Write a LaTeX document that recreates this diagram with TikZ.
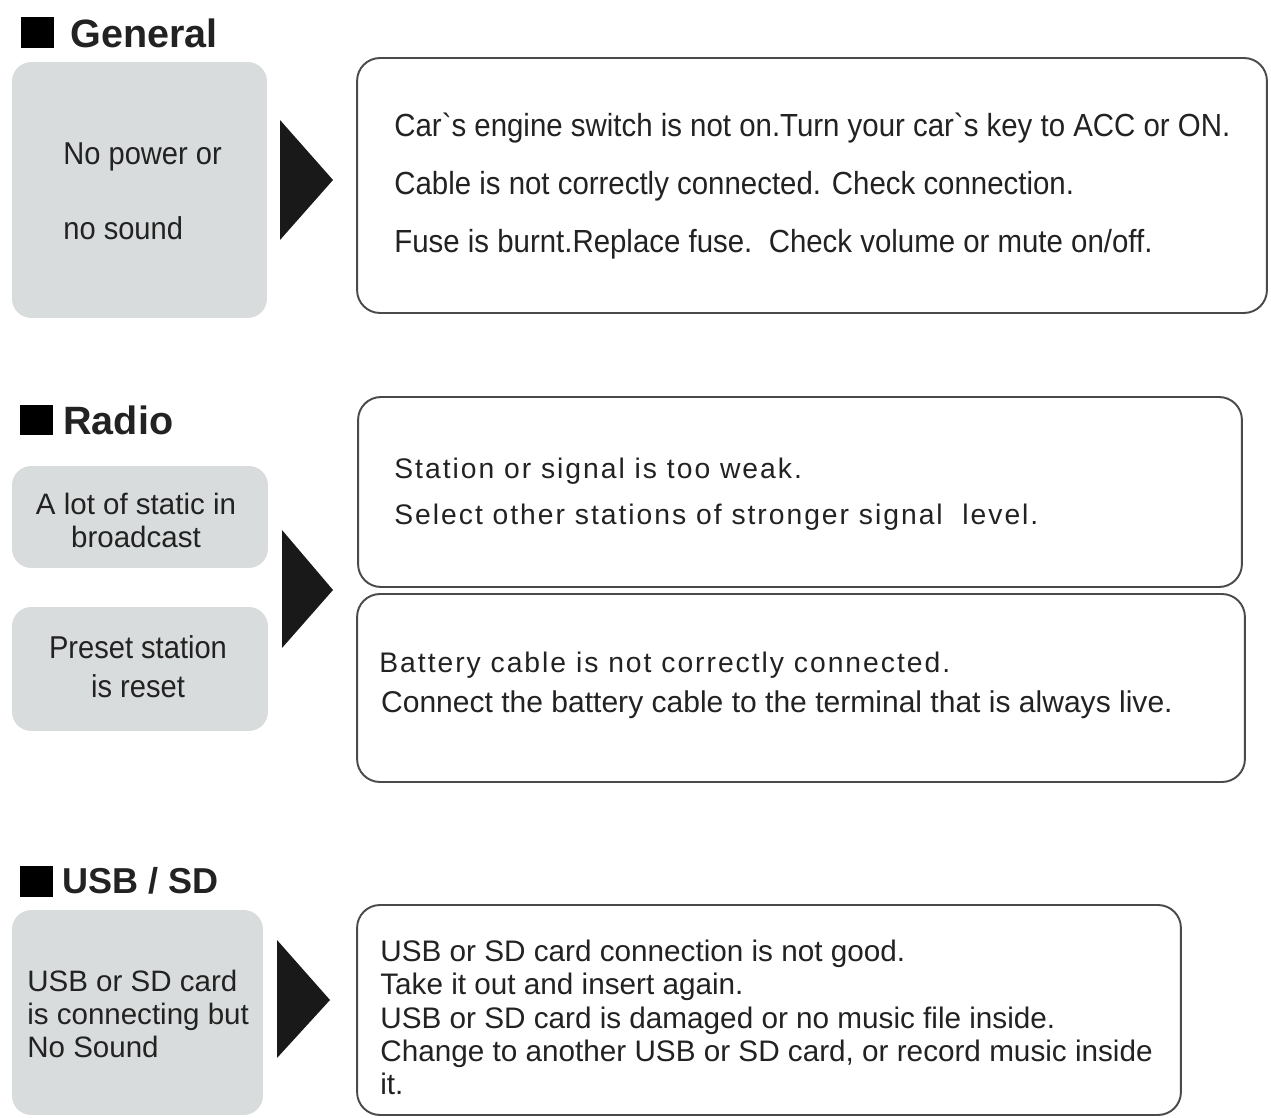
\documentclass[tikz,border=0pt]{standalone}
\usepackage{fontspec}
\setmainfont{Liberation Sans}
\newfontfamily\narrowfont[FakeStretch=0.92]{Liberation Sans}
\newfontfamily\spacedfont[LetterSpace=7]{Liberation Sans}
\usetikzlibrary{positioning}
\definecolor{issuegrey}{HTML}{D9DCDC}
\definecolor{inkgrey}{HTML}{222222}
\definecolor{framegrey}{HTML}{4A4A4A}

\begin{document}
\begin{tikzpicture}[x=0.02cm,y=-0.02cm,
      issue/.style={fill=issuegrey,draw=none,rounded corners=11pt,inner sep=0pt},
      fixbox/.style={draw=framegrey,line width=1.1pt,fill=white,rounded corners=13pt,inner sep=0pt},
      hsq/.style={fill=black,inner sep=0pt,minimum width=0.68cm,minimum height=0.62cm},
      htxt/.style={anchor=west,inner sep=0pt,text=inkgrey,font=\fontsize{22.5}{26}\selectfont\bfseries},
      txt/.style={inner sep=0pt,text=inkgrey},
      pointer/.style={fill=black!90}]
    \useasboundingbox (0,0) rectangle (1271,1118);

    % General
    \node[hsq] (sqgen) at (37.5,32.5) {};
    \node[htxt] (hgen) at (70,33) {General};
    \node[issue,minimum width=5.10cm,minimum height=5.12cm] (q1) at (139.5,190) {};
    \node[fixbox,minimum width=18.20cm,minimum height=5.10cm] (a1) at (812,185.5) {};
    \node[txt,anchor=west,align=left,font=\narrowfont\fontsize{18}{42.7}\selectfont] (q1t) at (63,191.5)
      {No power or\\no sound};
    \node[txt,anchor=west,align=left,font=\narrowfont\fontsize{18.2}{33}\selectfont] (a1t) at (394,186)
      {Car`s engine switch is not on.Turn your car`s key to ACC or ON.\\
       Cable is not correctly connected. Check connection.\\
       Fuse is burnt.Replace fuse.\ \ Check volume or mute on/off.};
    \fill[pointer] (280,120) -- (333,180) -- (280,240) -- cycle;

    % Radio
    \node[hsq] (sqrad) at (36.5,420) {};
    \node[htxt] (hrad) at (63,420) {Radio};
    \node[issue,minimum width=5.12cm,minimum height=2.04cm] (q2) at (140,517) {};
    \node[issue,minimum width=5.12cm,minimum height=2.48cm] (q3) at (140,669) {};
    \node[fixbox,minimum width=17.68cm,minimum height=3.80cm] (a2) at (800,492) {};
    \node[fixbox,minimum width=17.76cm,minimum height=3.76cm] (a3) at (801,688) {};
    \node[txt,align=center,font=\fontsize{16.8}{18.8}\selectfont] (q2t) at (136,520)
      {A lot of static in\\broadcast\hspace{0.5em}};
    \node[txt,align=center,font=\narrowfont\fontsize{18}{22.2}\selectfont] (q3t) at (138,667)
      {Preset station\\is reset};
    \node[txt,anchor=west,align=left,font=\spacedfont\fontsize{16.1}{26.2}\selectfont] (a2t) at (394,494)
      {Station or signal is too weak.\\Select other stations of stronger signal\ \ level.};
    \node[txt,anchor=west,align=left,font=\fontsize{17.1}{22.8}\selectfont] (a3t) at (379,685)
      {{\spacedfont\fontsize{16.1}{22.8}\selectfont Battery cable is not correctly connected.}\\
       \hspace{1pt}Connect the battery cable to the terminal that is always live.};
    \fill[pointer] (282,530) -- (333,590) -- (282,648) -- cycle;

    % USB / SD
    \node[hsq] (squsb) at (36.5,881.5) {};
    \node[htxt,font=\fontsize{20.5}{24}\selectfont\bfseries] (husb) at (62,881) {USB / SD};
    \node[issue,minimum width=5.02cm,minimum height=4.10cm] (q4) at (137.5,1012.5) {};
    \node[fixbox,minimum width=16.48cm,minimum height=4.20cm] (a4) at (769,1010) {};
    \node[txt,anchor=west,align=left,font=\fontsize{16.8}{18.9}\selectfont] (q4t) at (27,1014)
      {USB or SD card\\is connecting but\\No Sound};
    \node[txt,anchor=west,align=left,font=\fontsize{16.9}{18.9}\selectfont] (a4t) at (380,1017.5)
      {USB or SD card connection is not good.\\
       Take it out and insert again.\\
       USB or SD card is damaged or no music file inside.\\
       Change to another USB or SD card, or record music inside\\
       it.};
    \fill[pointer] (277,940) -- (330,1000) -- (277,1058) -- cycle;
  \end{tikzpicture}
\end{document}
